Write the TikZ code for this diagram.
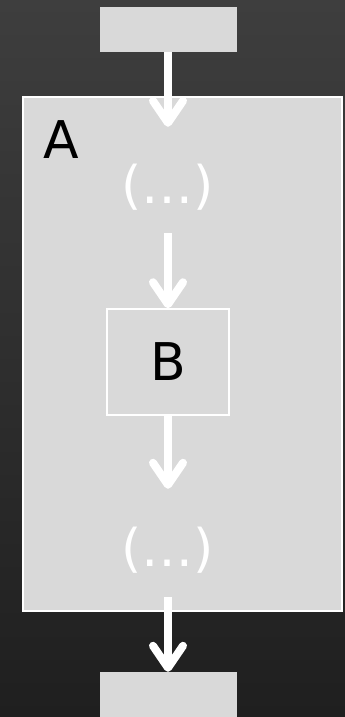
\documentclass[tikz,border=0pt]{standalone}
\usepackage{fontspec}
\setmainfont{DejaVu Sans}
\usetikzlibrary{arrows.meta}
\definecolor{boxgray}{HTML}{D9D9D9}
\definecolor{bgtop}{HTML}{3E3E3E}
\definecolor{bgbot}{HTML}{1F1F1F}
\tikzset{
  graybox/.style={rectangle, fill=boxgray, inner sep=0pt},
  whiteframe/.style={graybox, draw=white, line width=1.5pt},
  ghost/.style={rectangle, inner sep=0pt, minimum width=121pt},
  bigtext/.style={font=\fontsize{52}{62}\selectfont},
  arr/.style={white, line width=8pt, -{Straight Barb[round, length=22pt, width=30pt]}},
}
\begin{document}
\begin{tikzpicture}[x=1pt, y=-1pt]
  \shade[top color=bgtop, bottom color=bgbot] (0,0) rectangle (345,717);
  \useasboundingbox (0,0) rectangle (345,717);
  \node[graybox, minimum width=137pt, minimum height=45pt] (top) at (168,29.5) {};
  \node[whiteframe, minimum width=319pt, minimum height=514pt] (A) at (182.5,354) {};
  \node[bigtext, text=black] (alabel) at (61,140) {A};
  \node[ghost, minimum height=106pt, label={[bigtext, text=white, yshift=-7pt]center:(…)}] (dots1) at (168,180) {};
  \node[whiteframe, minimum width=122pt, minimum height=106pt, bigtext, text=black] (B) at (168,362) {B};
  \node[ghost, minimum height=108pt, label={[bigtext, text=white, yshift=-7pt]center:(…)}] (dots2) at (168,543) {};
  \node[graybox, minimum width=137pt, minimum height=45pt] (bottom) at (168,694.5) {};
  \draw[arr] (top.south) -- (dots1.north);
  \draw[arr] (dots1.south) -- (B.north);
  \draw[arr] (B.south) -- (dots2.north);
  \draw[arr] (dots2.south) -- (bottom.north);
\end{tikzpicture}
\end{document}
